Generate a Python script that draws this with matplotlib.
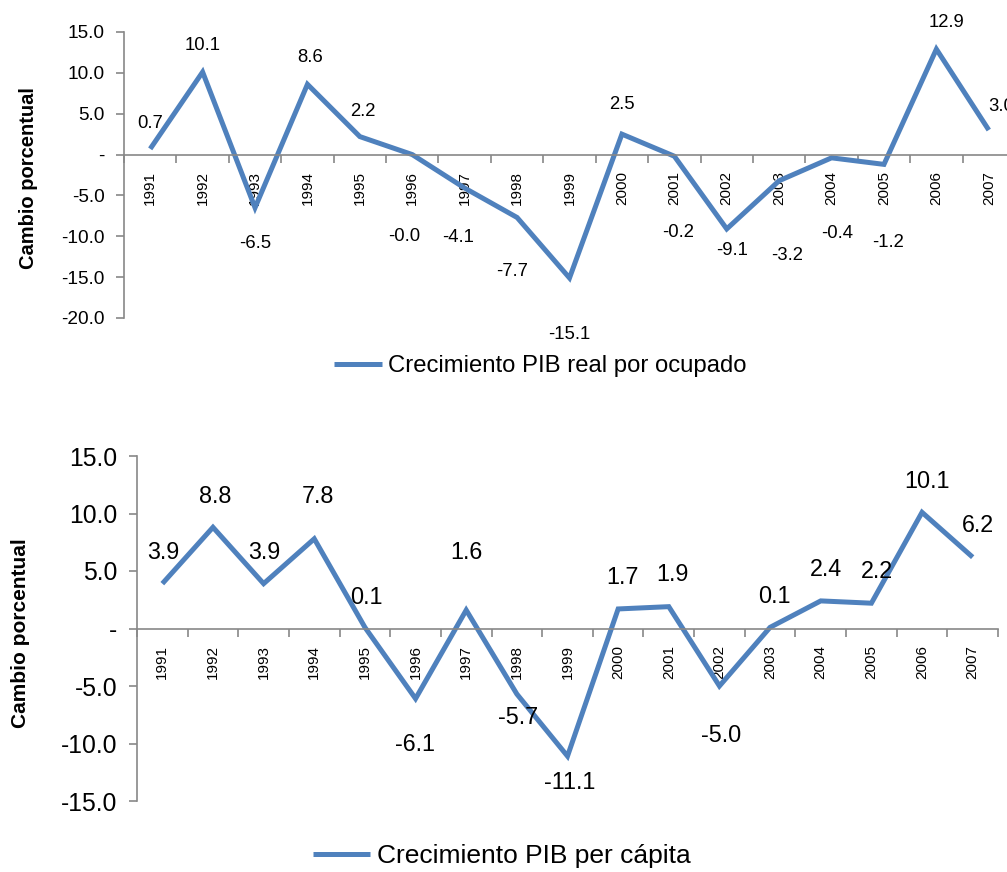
import matplotlib
matplotlib.use("Agg")
import matplotlib.pyplot as plt
import numpy as np

plt.rcParams['font.family'] = ['Liberation Sans', 'DejaVu Sans']

years = [str(y) for y in range(1991, 2008)]

pib_ocupado = [0.7, 10.1, -6.5, 8.6, 2.2, -0.0, -4.1, -7.7, -15.1, 2.5,
               -0.2, -9.1, -3.2, -0.4, -1.2, 12.9, 3.0]
pib_capita = [3.9, 8.8, 3.9, 7.8, 0.1, -6.1, 1.6, -5.7, -11.1, 1.7,
              1.9, -5.0, 0.1, 2.4, 2.2, 10.1, 6.2]

top_ticks = [15, 10, 5, 0, -5, -10, -15, -20]
bottom_ticks = [15, 10, 5, 0, -5, -10, -15]

# label offsets in pixels (dx right, dy down)
top_dx = [0, 0, 0, 3, 3, -8, -7, -5, 0, 0, 4, 5, 8, 6, 4, 10, 12]
top_dy = [-25, -27, 36, -27, -25, 82, 49, 54, 57, -30, 76, 22, 75, 76, 78, -27, -24]
bot_dx = [1, 2, 1, 4, 1, -1, 0, 1, 2, 4, 4, 2, 4, 5, 6, 5, 5]
bot_dy = [-31, -31, -31, -42, -30, 46, -58, 23, 26, -31, -32, 49, -31, -31, -32, -31, -32]

LINE = "#4F81BD"
AXIS = "#888888"


def fmt(v):
    if v == 0:
        return "-"
    return f"{v:.1f}"


def draw_panel(ax, values, yticks, dx, dy, tick_fs, label_fs, year_fs, ylab_fs, ylab_xy):
    x = np.arange(len(values))
    ax.plot(x, values, color=LINE, lw=3.6, solid_joinstyle="miter", solid_capstyle="butt")
    ax.set_xlim(-0.5, len(values) - 0.5)
    ax.set_ylim(min(yticks), max(yticks))

    for sp in ["top", "right"]:
        ax.spines[sp].set_visible(False)
    ax.spines["left"].set_color(AXIS)
    ax.spines["bottom"].set_color(AXIS)
    ax.spines["left"].set_linewidth(1.2)
    ax.spines["bottom"].set_linewidth(1.2)
    ax.spines["bottom"].set_position(("data", 0))

    ax.set_yticks(yticks)
    ax.set_yticklabels([fmt(t) for t in yticks], fontsize=tick_fs)
    ax.tick_params(axis="y", direction="out", length=6, width=1.2, color=AXIS, pad=8)

    ax.set_xticks(np.arange(-0.5, len(values), 1.0))
    ax.set_xticklabels([])
    ax.tick_params(axis="x", which="major", direction="out", length=6, width=1.2, color=AXIS)
    ax.set_xticks(x, minor=True)
    ax.set_xticklabels(years, minor=True, rotation=90, fontsize=year_fs, va="top")
    ax.tick_params(axis="x", which="minor", length=0, pad=12)

    for i, v in enumerate(values):
        ax.annotate(f"{v:.1f}", (x[i], v), xytext=(dx[i], -dy[i]), textcoords="offset pixels",
                    ha="center", va="center", fontsize=label_fs, annotation_clip=False)

    ax.set_ylabel("Cambio porcentual", fontsize=ylab_fs, fontweight="bold")
    ax.yaxis.set_label_coords(*ylab_xy)


fig = plt.figure(figsize=(10.07, 8.72), dpi=100)

ax1 = fig.add_axes([124 / 1007, 1 - 318 / 872, 891 / 1007, 286 / 872])
draw_panel(ax1, pib_ocupado, top_ticks, top_dx, top_dy, 13.7, 13.3, 11, 14.5,
           ((38 - 124) / 891, 0.49))
ax1.legend(["Crecimiento PIB real por ocupado"], loc="center",
           bbox_to_anchor=(540 / 1007, 1 - 366 / 872), bbox_transform=fig.transFigure,
           frameon=False, fontsize=17.2, handlelength=2.0, handletextpad=0.25)

ax2 = fig.add_axes([137 / 1007, 1 - 801 / 872, 861 / 1007, 345 / 872])
draw_panel(ax2, pib_capita, bottom_ticks, bot_dx, bot_dy, 17.8, 16.8, 11, 15,
           ((30 - 137) / 861, 0.487))
ax2.legend(["Crecimiento PIB per cápita"], loc="center",
           bbox_to_anchor=(502 / 1007, 1 - 856 / 872), bbox_transform=fig.transFigure,
           frameon=False, fontsize=19, handlelength=2.15, handletextpad=0.25)

fig.savefig("out.png", dpi=100)
